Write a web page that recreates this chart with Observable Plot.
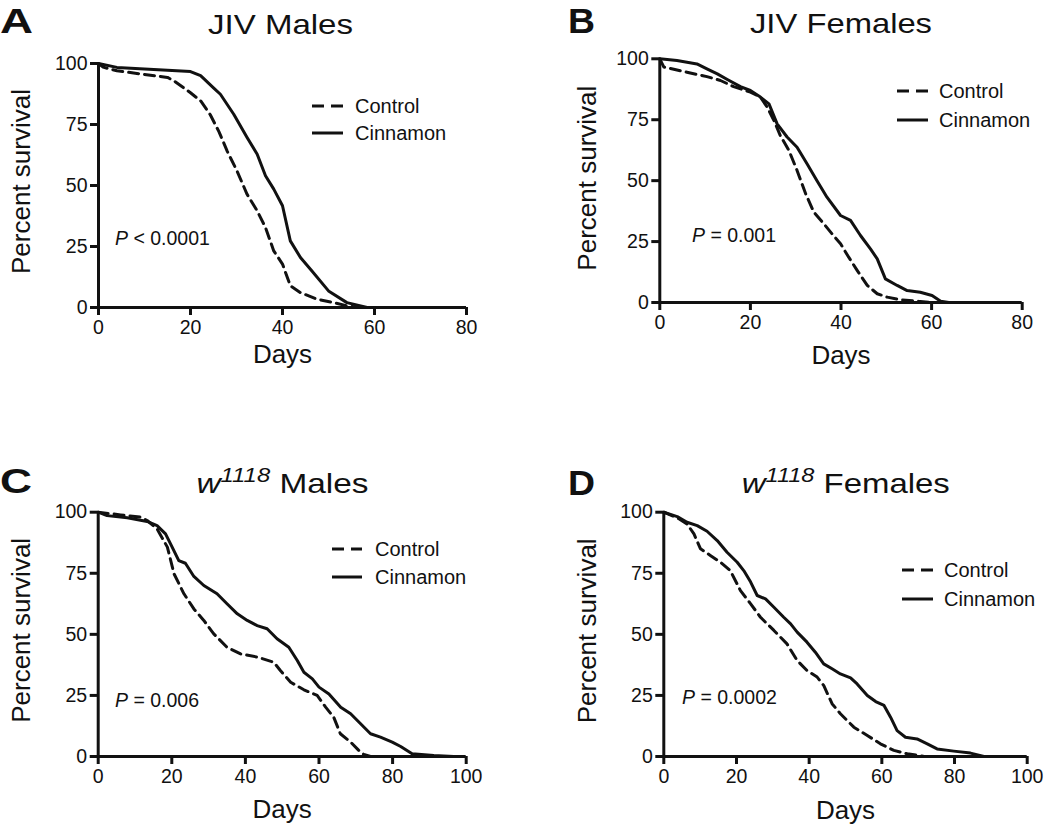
<!DOCTYPE html>
<html><head><meta charset="utf-8">
<script src="https://cdn.jsdelivr.net/npm/d3@7"></script>
<script src="https://cdn.jsdelivr.net/npm/@observablehq/plot@0.6"></script>
<style>
body{margin:0;background:#fff;}
#root{position:relative;width:1050px;height:833px;overflow:hidden;font-family:"Liberation Sans",Arial,sans-serif;background:#fff;}
.panel{position:absolute;}
.panel svg{overflow:visible;background:transparent !important;}
#overlay{position:absolute;left:0;top:0;}
</style></head><body><div id="root"></div>
<script>
// ---- Tick values ----
const yTicks = [0, 25, 50, 75, 100];
const xTicksJIV = [0, 20, 40, 60, 80];
const xTicksW = [0, 20, 40, 60, 80, 100];

// ---- Panel A: JIV Males ----
const aControlDays = [0, 1, 4, 15, 16.4, 20, 22.2, 24.3, 26.2, 28, 30.1, 32.3, 34.5, 36.3, 38.1, 40, 41.7, 43.9, 47.5, 51.2, 54, 57];
const aControlPct  = [100, 98.5, 97, 94.3, 92.9, 88, 84.7, 79, 72, 64, 56, 46.4, 39.6, 32.8, 23.2, 17.8, 8.9, 6.1, 3.4, 2.0, 0.7, 0];
const aCinnDays = [0, 4, 20, 22.2, 25, 26.5, 29.4, 32.3, 34.5, 36.3, 38.1, 40, 41.7, 43.9, 46.4, 50, 54, 57.7, 58.4];
const aCinnPct  = [100, 98.4, 96.7, 95, 90, 87.4, 79.2, 69.7, 62.8, 54, 48.5, 41.7, 27.3, 20.5, 15, 6.8, 2, 0.3, 0];

// ---- Panel B: JIV Females ----
const bControlDays = [0, 0.9, 6, 10.4, 13.4, 16.3, 20, 22.2, 23.7, 25.2, 26.6, 28.5, 30.3, 32.2, 34, 36.2, 38, 39.9, 41.7, 43.6, 45.8, 48, 50.2, 53.1, 57.5, 59.8];
const bControlPct  = [100, 96.6, 94.5, 92.7, 91.1, 88.6, 86.3, 84.3, 80.2, 74.7, 68.5, 62.4, 54.2, 44.6, 37.1, 32.3, 28.2, 24.1, 18.6, 13.1, 7, 3.6, 2.2, 1.1, 0.4, 0];
const bCinnDays = [0, 3.8, 8.2, 10.4, 12.7, 14.9, 17.8, 20, 22.2, 24.1, 25.9, 28.1, 30.3, 32.5, 34.7, 36.9, 39.9, 42.1, 44.3, 46.5, 48, 49.8, 52.4, 54.6, 57.5, 60.1, 62, 63.8];
const bCinnPct  = [100, 99.3, 97.9, 95.9, 93.8, 91.5, 88.6, 87, 84.3, 81.5, 73.3, 67.9, 63.7, 56.9, 50, 43.2, 35.7, 33.7, 27.5, 22, 17.9, 9.7, 7, 4.9, 4.2, 2.9, 0.5, 0];

// ---- Panel C: w1118 Males ----
const cControlDays = [0, 6.1, 11.5, 13.3, 16, 18.8, 20.6, 23.3, 26, 28.7, 31.4, 35, 38.7, 43.2, 47.7, 49.5, 52.3, 55.9, 59.5, 61.8, 64, 65.8, 68.6, 70.8, 72.2, 74];
const cControlPct  = [100, 98.9, 98, 96.6, 93.2, 85.7, 74.8, 66.6, 60.4, 55.7, 50.2, 44.7, 42, 40.7, 38.6, 35.2, 30.4, 27.3, 25, 20.2, 16.1, 9.3, 5.9, 2.5, 0.8, 0];
const cCinnDays = [0, 2.4, 7.9, 13.3, 16, 18.3, 20.1, 21.9, 23.7, 26, 28.7, 32.3, 35, 37.8, 40.5, 43.2, 45.9, 48.6, 51.8, 54.1, 55.9, 58.2, 60, 62.7, 65.9, 68.6, 71.3, 74, 76.7, 79.9, 82.2, 85.3, 91.2, 96.6];
const cCinnPct  = [100, 98.6, 97.7, 96.2, 94.5, 91.1, 85.7, 80.2, 79.1, 73.7, 70, 66.6, 62.5, 58.4, 55.7, 53.6, 52.3, 48.2, 44.7, 39.3, 34.5, 31.8, 28.4, 25.6, 20.2, 17.5, 13.4, 9.3, 7.9, 5.9, 4.1, 1.1, 0.4, 0];

// ---- Panel D: w1118 Females ----
const dControlDays = [0, 3.7, 6.4, 8.3, 10.1, 12.8, 15.6, 18.3, 21.1, 23.9, 26.6, 30.3, 33.9, 36.7, 39.4, 42.2, 44, 46.3, 48.6, 52.3, 56, 59.6, 63.3, 67, 70.6, 71.6];
const dControlPct  = [100, 97.7, 95.2, 91.1, 85, 82.3, 79.5, 76.1, 67.9, 62.5, 57, 51.6, 46.1, 39.3, 35.2, 32.5, 29.1, 21.6, 17.5, 12, 8.6, 5.2, 2.5, 1.1, 0.3, 0];
const dCinnDays = [0, 3.7, 6.4, 9.2, 11.9, 14.7, 17.4, 20.2, 22, 23.9, 25.7, 28, 30.3, 33, 34.9, 36.7, 39.4, 41.7, 44, 46.3, 48.6, 51.4, 53.2, 56, 58.3, 60.6, 62.4, 64.2, 66.5, 69.7, 72.5, 75.2, 79.8, 84.4, 88.1];
const dCinnPct  = [100, 98.2, 95.9, 94.5, 92.2, 88.4, 83.6, 79.5, 76.1, 71.4, 65.9, 64.5, 61.1, 57, 54.3, 50.9, 46.8, 42.7, 37.9, 35.9, 33.8, 32.2, 29.7, 25, 22.5, 20.9, 16.1, 10.6, 7.9, 7.2, 5.2, 3.1, 2.2, 1.4, 0];

const seriesNames = ["Control", "Cinnamon"];
const panelLetters = ["A", "B", "C", "D"];
const pValues = ["< 0.0001", "= 0.001", "= 0.006", "= 0.0002"];

const FONT = '"Liberation Sans", Arial, sans-serif';
const INK = "#111";

function rows(days, pct) { return days.map((d, i) => ({day: d, pct: pct[i]})); }

const panels = [
  {left: 0,   top: 0,   w: 525, h: 416, ml: 98,    mr: 59,   mt: 63,   mb: 109, xMax: 80,  xTicks: xTicksJIV,
   ctrl: rows(aControlDays, aControlPct), cinn: rows(aCinnDays, aCinnPct), ylDx: -77, ylDy: -4, xlDy: 55},
  {left: 525, top: 0,   w: 525, h: 416, ml: 134.3, mr: 28.3, mt: 58.3, mb: 114, xMax: 80,  xTicks: xTicksJIV,
   ctrl: rows(bControlDays, bControlPct), cinn: rows(bCinnDays, bCinnPct), ylDx: -72, ylDy: -2.5, xlDy: 61},
  {left: 0,   top: 416, w: 525, h: 417, ml: 97.7,  mr: 59.3, mt: 95.7, mb: 77,  xMax: 100, xTicks: xTicksW,
   ctrl: rows(cControlDays, cControlPct), cinn: rows(cCinnDays, cCinnPct), ylDx: -77, ylDy: -4, xlDy: 61},
  {left: 525, top: 416, w: 525, h: 417, ml: 138.3, mr: 23.3, mt: 95.7, mb: 77,  xMax: 100, xTicks: xTicksW,
   ctrl: rows(dControlDays, dControlPct), cinn: rows(dCinnDays, dCinnPct), ylDx: -76, ylDy: -3.5, xlDy: 62}
];

const root = document.getElementById("root");

panels.forEach(p => {
  const chart = Plot.plot({
    width: p.w, height: p.h,
    marginLeft: p.ml, marginRight: p.mr, marginTop: p.mt, marginBottom: p.mb,
    style: {fontFamily: FONT, color: INK, background: "transparent", overflow: "visible"},
    x: {domain: [0, p.xMax]},
    y: {domain: [0, 100]},
    marks: [
      Plot.line(p.ctrl, {x: "day", y: "pct", stroke: INK, strokeWidth: 3, strokeDasharray: "10,6"}),
      Plot.line(p.cinn, {x: "day", y: "pct", stroke: INK, strokeWidth: 3}),
      Plot.ruleY([0], {stroke: INK, strokeWidth: 3}),
      Plot.ruleX([0], {stroke: INK, strokeWidth: 3}),
      Plot.axisX({ticks: p.xTicks, tickSize: 8, tickPadding: 5, fontSize: 19.5, strokeWidth: 3, label: null, tickFormat: d => String(d)}),
      Plot.axisY({ticks: yTicks, tickSize: 8, tickPadding: 3, fontSize: 19.5, strokeWidth: 3, label: null, tickFormat: d => String(d)}),
      Plot.text(["Days"], {text: d => d, frameAnchor: "bottom", dy: p.xlDy, fontSize: 26, fill: INK}),
      Plot.text(["Percent survival"], {text: d => d, frameAnchor: "left", textAnchor: "middle", rotate: -90, dx: p.ylDx, dy: p.ylDy, fontSize: 26, fill: INK})
    ]
  });
  const div = document.createElement("div");
  div.className = "panel";
  div.style.left = p.left + "px";
  div.style.top = p.top + "px";
  div.appendChild(chart);
  root.appendChild(div);
});

// ---- Overlay: panel letters, titles, legends, P values ----
const NS = "http://www.w3.org/2000/svg";
const ov = document.createElementNS(NS, "svg");
ov.setAttribute("id", "overlay");
ov.setAttribute("width", 1050);
ov.setAttribute("height", 833);
ov.setAttribute("font-family", FONT);
root.appendChild(ov);

function txt(x, y, parts, opts = {}) {
  const t = document.createElementNS(NS, "text");
  t.setAttribute("x", x); t.setAttribute("y", y);
  t.setAttribute("fill", INK);
  t.setAttribute("font-size", opts.size || 20);
  if (opts.anchor) t.setAttribute("text-anchor", opts.anchor);
  if (opts.weight) t.setAttribute("font-weight", opts.weight);
  if (opts.len) { t.setAttribute("textLength", opts.len); t.setAttribute("lengthAdjust", "spacingAndGlyphs"); }
  parts.forEach(pt => {
    const s = document.createElementNS(NS, "tspan");
    s.textContent = pt.t;
    if (pt.italic) s.setAttribute("font-style", "italic");
    if (pt.size) s.setAttribute("font-size", pt.size);
    if (pt.dy) s.setAttribute("dy", pt.dy);
    t.appendChild(s);
  });
  ov.appendChild(t);
}
function seg(x1, x2, y, dashed) {
  const l = document.createElementNS(NS, "line");
  l.setAttribute("x1", x1); l.setAttribute("x2", x2);
  l.setAttribute("y1", y); l.setAttribute("y2", y);
  l.setAttribute("stroke", INK); l.setAttribute("stroke-width", 3);
  if (dashed) l.setAttribute("stroke-dasharray", "12,7");
  ov.appendChild(l);
}

const letterPos = [[0, 33, 33], [568, 33, 27], [0, 493, 32], [568, 495, 27]];
letterPos.forEach((lp, i) => txt(lp[0], lp[1], [{t: panelLetters[i]}], {size: 35, weight: "bold", len: lp[2]}));

txt(280.5, 34, [{t: "JIV Males"}], {size: 28, anchor: "middle", len: 145});
txt(841, 33, [{t: "JIV Females"}], {size: 28, anchor: "middle", len: 182});
txt(282.5, 493, [{t: "w", italic: true}, {t: "1118", italic: true, size: 20, dy: -11}, {t: " Males", dy: 11}], {size: 28, anchor: "middle", len: 172});
txt(845.8, 493, [{t: "w", italic: true}, {t: "1118", italic: true, size: 20, dy: -11}, {t: " Females", dy: 11}], {size: 28, anchor: "middle", len: 208});

const legendPos = [
  {x1: 312, x2: 343, y: [106, 133], tx: 355},
  {x1: 897, x2: 928, y: [91, 120], tx: 939},
  {x1: 332, x2: 362, y: [549, 577], tx: 375},
  {x1: 902, x2: 933, y: [570, 599], tx: 944}
];
legendPos.forEach(lg => {
  seriesNames.forEach((name, j) => {
    seg(lg.x1, lg.x2, lg.y[j], j === 0);
    txt(lg.tx, lg.y[j] + 7, [{t: name}], {size: 20});
  });
});

const pPos = [[115, 245], [692, 242], [115, 707], [682, 704]];
pPos.forEach((pp, i) => txt(pp[0], pp[1], [{t: "P", italic: true}, {t: " " + pValues[i]}], {size: 19.5}));
</script>
</body></html>
